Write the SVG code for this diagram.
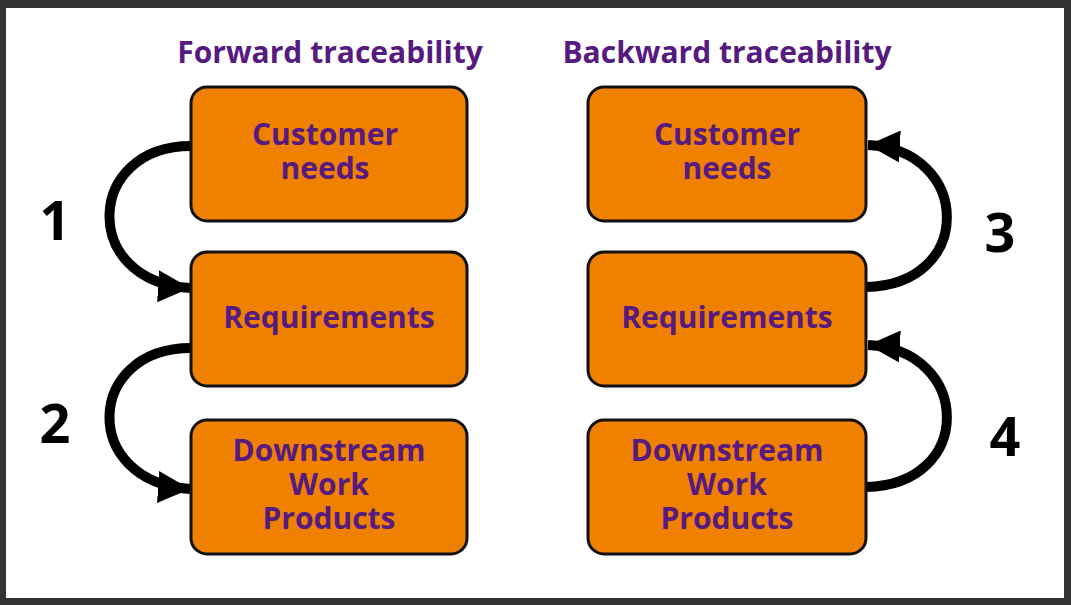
<svg xmlns="http://www.w3.org/2000/svg" width="1071" height="605" viewBox="0 0 1071 605">
<defs>
<style>
.box{fill:#f08000;stroke:#111;stroke-width:3}
.t{font-family:"Open Sans","Liberation Sans",sans-serif;font-weight:bold;fill:#561a80;text-anchor:middle}
.lbl{font-size:30px}
.ttl{font-size:30px}
.num{font-family:"Open Sans","Liberation Sans",sans-serif;font-weight:bold;font-size:54px;fill:#000;text-anchor:middle}
.c{fill:none;stroke:#000;stroke-width:10}
</style>
<marker id="ah" viewBox="0 0 10 10" refX="10" refY="5" markerWidth="3.2" markerHeight="3.2" orient="auto" markerUnits="strokeWidth"><path d="M0,0 L10,5 L0,10 Z" fill="#000"/></marker>
</defs>
<rect width="1071" height="605" fill="#333"/>
<rect x="6" y="8" width="1058" height="590" fill="#fff"/>
<text class="t ttl" x="330" y="63">Forward traceability</text>
<text class="t ttl" x="727" y="63">Backward traceability</text>
<g id="connectors">
<path class="c" d="M191,146 C85,146 80,282 190,288" marker-end="url(#ah)"/>
<path class="c" d="M191,348 C85,348 80,482 190,489" marker-end="url(#ah)"/>
<path class="c" d="M866,287 C975,285 972,150 868,145" marker-end="url(#ah)"/>
<path class="c" d="M866,487 C975,485 972,350 868,345" marker-end="url(#ah)"/>
</g>
<g id="n1"><rect class="box" x="191" y="87" width="276" height="134" rx="16"/><text class="t lbl" x="325" y="145">Customer</text><text class="t lbl" x="325" y="179">needs</text></g>
<g id="n2"><rect class="box" x="191" y="252" width="276" height="134" rx="16"/><text class="t lbl" x="329" y="328">Requirements</text></g>
<g id="n3"><rect class="box" x="191" y="420" width="276" height="134" rx="16"/><text class="t lbl" x="329" y="461">Downstream</text><text class="t lbl" x="329" y="495">Work</text><text class="t lbl" x="329" y="529">Products</text></g>
<g id="n4"><rect class="box" x="588" y="87" width="278" height="134" rx="16"/><text class="t lbl" x="727" y="145">Customer</text><text class="t lbl" x="727" y="179">needs</text></g>
<g id="n5"><rect class="box" x="588" y="252" width="278" height="134" rx="16"/><text class="t lbl" x="727" y="328">Requirements</text></g>
<g id="n6"><rect class="box" x="588" y="420" width="278" height="134" rx="16"/><text class="t lbl" x="727" y="461">Downstream</text><text class="t lbl" x="727" y="495">Work</text><text class="t lbl" x="727" y="529">Products</text></g>
<text class="num" x="55" y="240">1</text>
<text class="num" x="55" y="443">2</text>
<text class="num" x="1000" y="252">3</text>
<text class="num" x="1005" y="456">4</text>
</svg>
